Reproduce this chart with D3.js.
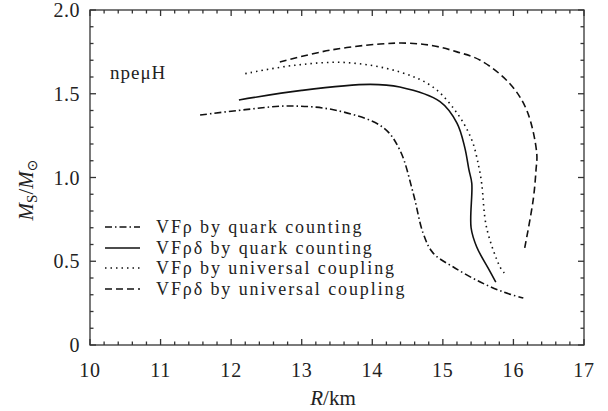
<!DOCTYPE html>
<html><head><meta charset="utf-8">
<script src="https://cdn.jsdelivr.net/npm/d3@7"></script>
<style>body{margin:0;background:#fff}svg{display:block}text{font-family:"Liberation Serif","Times New Roman",serif;fill:#222}</style>
</head><body>
<script>
// Data (R in km, M in solar masses)
const R_vfr_qc  = [11.56, 12.2, 12.83, 13.5, 14.15, 14.39, 14.58, 14.72, 14.86, 15.17, 15.53, 15.86, 16.14];
const M_vfr_qc  = [1.373, 1.405, 1.427, 1.40, 1.30, 1.164, 0.906, 0.668, 0.55, 0.46, 0.376, 0.316, 0.28];
const R_vfrd_qc = [12.11, 13.0, 13.97, 14.39, 14.96, 15.2, 15.31, 15.37, 15.41, 15.40, 15.48, 15.64, 15.75];
const M_vfrd_qc = [1.463, 1.52, 1.556, 1.54, 1.453, 1.325, 1.18, 1.045, 0.965, 0.70, 0.585, 0.46, 0.376];
const R_vfr_uc  = [12.2, 12.9, 13.64, 14.39, 14.86, 15.2, 15.41, 15.51, 15.55, 15.62, 15.81, 15.87];
const M_vfr_uc  = [1.62, 1.67, 1.686, 1.63, 1.54, 1.385, 1.224, 1.063, 0.965, 0.70, 0.466, 0.43];
const R_vfrd_uc = [12.69, 13.4, 14.11, 14.5, 14.86, 15.2, 15.53, 15.95, 16.19, 16.33, 16.32, 16.28, 16.16];
const M_vfrd_uc = [1.69, 1.76, 1.797, 1.802, 1.787, 1.75, 1.70, 1.56, 1.40, 1.146, 1.045, 0.866, 0.58];
const seriesNames = ["VFρ by quark counting", "VFρδ by quark counting", "VFρ by universal coupling", "VFρδ by universal coupling"];
const xTicks = [10, 11, 12, 13, 14, 15, 16, 17];
const yTicks = [0, 0.5, 1.0, 1.5, 2.0];
const yTickLabels = ["0", "0.5", "1.0", "1.5", "2.0"];

const W = 608, H = 411;
const svg = d3.select("body").append("svg").attr("width", W).attr("height", H);
const x = d3.scaleLinear().domain([10, 17]).range([90, 584]);
const y = d3.scaleLinear().domain([0, 2]).range([345, 10]);

const dashes = ["7,3,1.5,3", null, "1.5,4", "7,4"];
const series = [
  [R_vfr_qc, M_vfr_qc], [R_vfrd_qc, M_vfrd_qc], [R_vfr_uc, M_vfr_uc], [R_vfrd_uc, M_vfrd_uc]
];
const line = d3.line().x(d => x(d[0])).y(d => y(d[1])).curve(d3.curveCatmullRom.alpha(0.5));
series.forEach((s, i) => {
  const pts = s[0].map((r, k) => [r, s[1][k]]);
  svg.append("path").attr("d", line(pts)).attr("fill", "none").attr("stroke", "#111")
    .attr("stroke-width", 1.6).attr("stroke-dasharray", dashes[i]);
});

// frame and ticks
const g = svg.append("g").attr("stroke", "#333").attr("stroke-width", 1.3);
g.append("rect").attr("x", x(10)).attr("y", y(2)).attr("width", x(17) - x(10)).attr("height", y(0) - y(2)).attr("fill", "none");
const xMinor = d3.range(10, 17.001, 0.2);
xMinor.forEach(v => {
  const major = Math.abs(v - Math.round(v)) < 1e-6;
  const L = major ? 6 : 3.5;
  g.append("line").attr("x1", x(v)).attr("x2", x(v)).attr("y1", y(0)).attr("y2", y(0) - L);
  g.append("line").attr("x1", x(v)).attr("x2", x(v)).attr("y1", y(2)).attr("y2", y(2) + L);
});
const yMinor = d3.range(0, 2.001, 0.1);
yMinor.forEach(v => {
  const major = Math.abs(v * 2 - Math.round(v * 2)) < 1e-6;
  const L = major ? 6 : 3.5;
  g.append("line").attr("y1", y(v)).attr("y2", y(v)).attr("x1", x(10)).attr("x2", x(10) + L);
  g.append("line").attr("y1", y(v)).attr("y2", y(v)).attr("x1", x(17)).attr("x2", x(17) - L);
});

// tick labels
svg.append("g").selectAll("text").data(xTicks).join("text")
  .attr("x", d => x(d)).attr("y", 377).attr("text-anchor", "middle").attr("font-size", 20)
  .attr("letter-spacing", 0.8).text(d => d);
svg.append("g").selectAll("text").data(yTicks).join("text")
  .attr("x", 80).attr("y", d => y(d) + 7).attr("text-anchor", "end").attr("font-size", 20)
  .attr("letter-spacing", 0.5).text((d, i) => yTickLabels[i]);

// axis titles
const xt = svg.append("text").attr("x", 333).attr("y", 405).attr("text-anchor", "middle").attr("font-size", 21);
xt.append("tspan").attr("font-style", "italic").text("R");
xt.append("tspan").text("/km");
const yt = svg.append("text").attr("transform", "translate(33,190) rotate(-90)").attr("text-anchor", "middle").attr("font-size", 21);
yt.append("tspan").attr("font-style", "italic").text("M");
yt.append("tspan").attr("font-size", 15).attr("dy", 4).text("S");
yt.append("tspan").attr("dy", -4).text("/");
yt.append("tspan").attr("font-style", "italic").text("M");
yt.append("tspan").attr("font-size", 14).attr("dy", 4).attr("font-family", "DejaVu Sans").text("⊙");

// annotation
svg.append("text").attr("x", 110).attr("y", 79).attr("font-size", 19).attr("letter-spacing", 1).text("npeμH");

// legend
const legY = [227, 248, 268, 289];
seriesNames.forEach((n, i) => {
  svg.append("line").attr("x1", 105).attr("x2", 140).attr("y1", legY[i]).attr("y2", legY[i])
    .attr("stroke", "#111").attr("stroke-width", 1.6).attr("stroke-dasharray", dashes[i]);
  svg.append("text").attr("x", 156).attr("y", legY[i] + 6).attr("font-size", 18)
    .attr("letter-spacing", 1.9).text(n);
});
</script>
</body></html>
